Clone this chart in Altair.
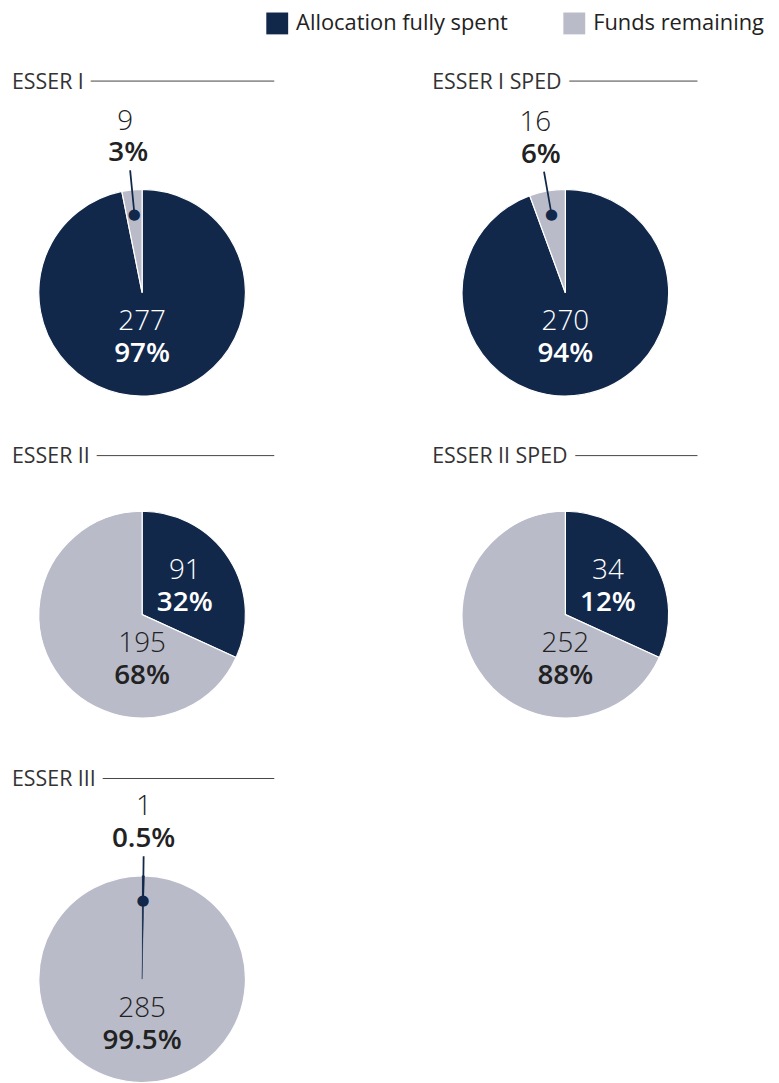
import math
import altair as alt
import pandas as pd

# ---------------- data ----------------
programs = ["ESSER I", "ESSER I SPED", "ESSER II", "ESSER II SPED", "ESSER III"]
statuses = ["Allocation fully spent", "Funds remaining"]

# labelled counts and percentages
spent_count = [277, 270, 91, 34, 1]
remaining_count = [9, 16, 195, 252, 285]
spent_pct = ["97%", "94%", "32%", "12%", "0.5%"]
remaining_pct = ["3%", "6%", "68%", "88%", "99.5%"]

# wedge sizes as drawn in the reference (ESSER II SPED wedge is drawn at ~32%)
spent_wedge = [277, 270, 91, 91, 1]
remaining_wedge = [9, 16, 195, 195, 285]

colors = ["#12284b", "#b9bbc9"]

rows = []
for i, p in enumerate(programs):
    total = spent_wedge[i] + remaining_wedge[i]
    s = spent_wedge[i] / total
    rows.append(dict(program=p, status=statuses[0], count=str(spent_count[i]),
                     pct=spent_pct[i], start=0.0, end=s))
    rows.append(dict(program=p, status=statuses[1], count=str(remaining_count[i]),
                     pct=remaining_pct[i], start=s, end=1.0))
df = pd.DataFrame(rows)
titles = pd.DataFrame({"program": programs})

# ---------------- styling ----------------
FONT = "Open Sans"
NAVY = colors[0]
DARK = "#222222"
PW = 268          # panel width used for the pie and its title line
CX = 134          # pie centre inside a panel
R = 104
FS = 28
LEG = alt.Legend(orient="none", legendX=259, legendY=0, direction="horizontal",
                 title=None, symbolType="square", symbolSize=484, symbolStrokeWidth=0,
                 labelFontSize=22, labelFont=FONT, labelColor=DARK, labelOffset=8,
                 columnPadding=55, labelLimit=400, padding=0)
TH = alt.Scale(domain=[0, 1], range=[0, 2 * math.pi])
COLSCALE = alt.Scale(domain=statuses, range=colors)


def panel(prog, w, h, ty, cy, tx=3):
    cx = CX
    base = (alt.Chart(df)
            .transform_filter(alt.datum.program == prog)
            .transform_calculate(share="datum.end - datum.start",
                                 mid="(datum.start + datum.end) / 2",
                                 mid2="(datum.start + datum.end) / 2 + 0.0004"))
    txtcolor = alt.condition(alt.datum.status == statuses[0],
                             alt.value("white"), alt.value(DARK))

    arcs = base.mark_arc(radius=R, stroke="white", strokeWidth=1.2).encode(
        x=alt.value(cx), y=alt.value(cy),
        theta=alt.Theta("start:Q", scale=TH, stack=None), theta2="end:Q",
        color=alt.Color("status:N", scale=COLSCALE, legend=LEG),
    )
    sliver = base.transform_filter("datum.share < 0.02").mark_arc(
        radius=R, fill=NAVY, stroke=NAVY, strokeWidth=0.6).encode(
        x=alt.value(cx), y=alt.value(cy),
        theta=alt.Theta("start:Q", scale=TH, stack=None), theta2="end:Q")

    major = base.transform_filter("datum.share >= 0.5")
    maj_cnt = major.mark_text(font=FONT, fontSize=FS, dy=-16, fontWeight=300,
                              baseline="middle").encode(
        x=alt.value(cx), y=alt.value(cy + 46), text="count:N", color=txtcolor)
    maj_pct = major.mark_text(font=FONT, fontSize=FS, dy=16, fontWeight=600,
                              baseline="middle").encode(
        x=alt.value(cx), y=alt.value(cy + 46), text="pct:N", color=txtcolor)

    minor = base.transform_filter("datum.share < 0.5 && datum.share >= 0.1")
    min_cnt = minor.mark_text(font=FONT, fontSize=FS, dy=-16, radius=51, fontWeight=300,
                              baseline="middle").encode(
        x=alt.value(cx), y=alt.value(cy),
        theta=alt.Theta("mid:Q", scale=TH, stack=None), text="count:N", color=txtcolor)
    min_pct = minor.mark_text(font=FONT, fontSize=FS, dy=16, radius=51, fontWeight=600,
                              baseline="middle").encode(
        x=alt.value(cx), y=alt.value(cy),
        theta=alt.Theta("mid:Q", scale=TH, stack=None), text="pct:N", color=txtcolor)

    out = base.transform_filter("datum.share < 0.1")
    out_cnt = out.mark_text(font=FONT, fontSize=FS, radius=173, baseline="middle",
                            fontWeight=300, color=DARK).encode(
        x=alt.value(cx), y=alt.value(cy),
        theta=alt.Theta("mid:Q", scale=TH, stack=None), text="count:N")
    out_pct = out.mark_text(font=FONT, fontSize=FS, radius=141, baseline="middle",
                            fontWeight=600, color=DARK).encode(
        x=alt.value(cx), y=alt.value(cy),
        theta=alt.Theta("mid:Q", scale=TH, stack=None), text="pct:N")
    leader = out.mark_arc(radius=123, radius2=80, stroke=NAVY, strokeWidth=1.5,
                          fill=NAVY).encode(
        x=alt.value(cx), y=alt.value(cy),
        theta=alt.Theta("mid:Q", scale=TH, stack=None), theta2="mid2:Q")
    dot = out.mark_text(font="DejaVu Sans", fontSize=15, radius=80, baseline="middle",
                        color=NAVY, text="\u25cf").encode(
        x=alt.value(cx), y=alt.value(cy),
        theta=alt.Theta("mid:Q", scale=TH, stack=None))

    tbase = alt.Chart(titles).transform_filter(alt.datum.program == prog)
    rule = tbase.mark_rule(color="#444444", strokeWidth=1).encode(
        x=alt.value(12), x2=alt.value(PW - 1), y=alt.value(ty))
    mask = tbase.mark_text(font=FONT, fontSize=21.5, align="left", baseline="alphabetic",
                           fill="white", stroke="white", strokeWidth=18,
                           clip=True).encode(
        x=alt.value(tx), y=alt.value(ty + 7.5), text="program:N")
    title = tbase.mark_text(font=FONT, fontSize=21.5, align="left", baseline="alphabetic",
                            color="#333333").encode(
        x=alt.value(tx), y=alt.value(ty + 7.5), text="program:N")

    return alt.layer(arcs, sliver, leader, dot, maj_cnt, maj_pct, min_cnt, min_pct,
                     out_cnt, out_pct, rule, mask, title).properties(width=w, height=h)


row1 = alt.hconcat(panel(programs[0], PW, 412, 69, 282),
                   panel(programs[1], 340, 412, 69, 282, tx=0),
                   spacing=156)
row2 = alt.hconcat(panel(programs[2], PW, 303, 12, 172),
                   panel(programs[3], 340, 303, 12, 172, tx=0),
                   spacing=156)
row3 = panel(programs[4], PW, 320, 12, 214)

chart = (alt.vconcat(row1, row2, row3, spacing=20)
         .properties(padding=0)
         .configure(font=FONT)
         .configure_view(stroke="transparent"))

chart.save("out.html", embed_options={"renderer": "svg", "actions": False})
